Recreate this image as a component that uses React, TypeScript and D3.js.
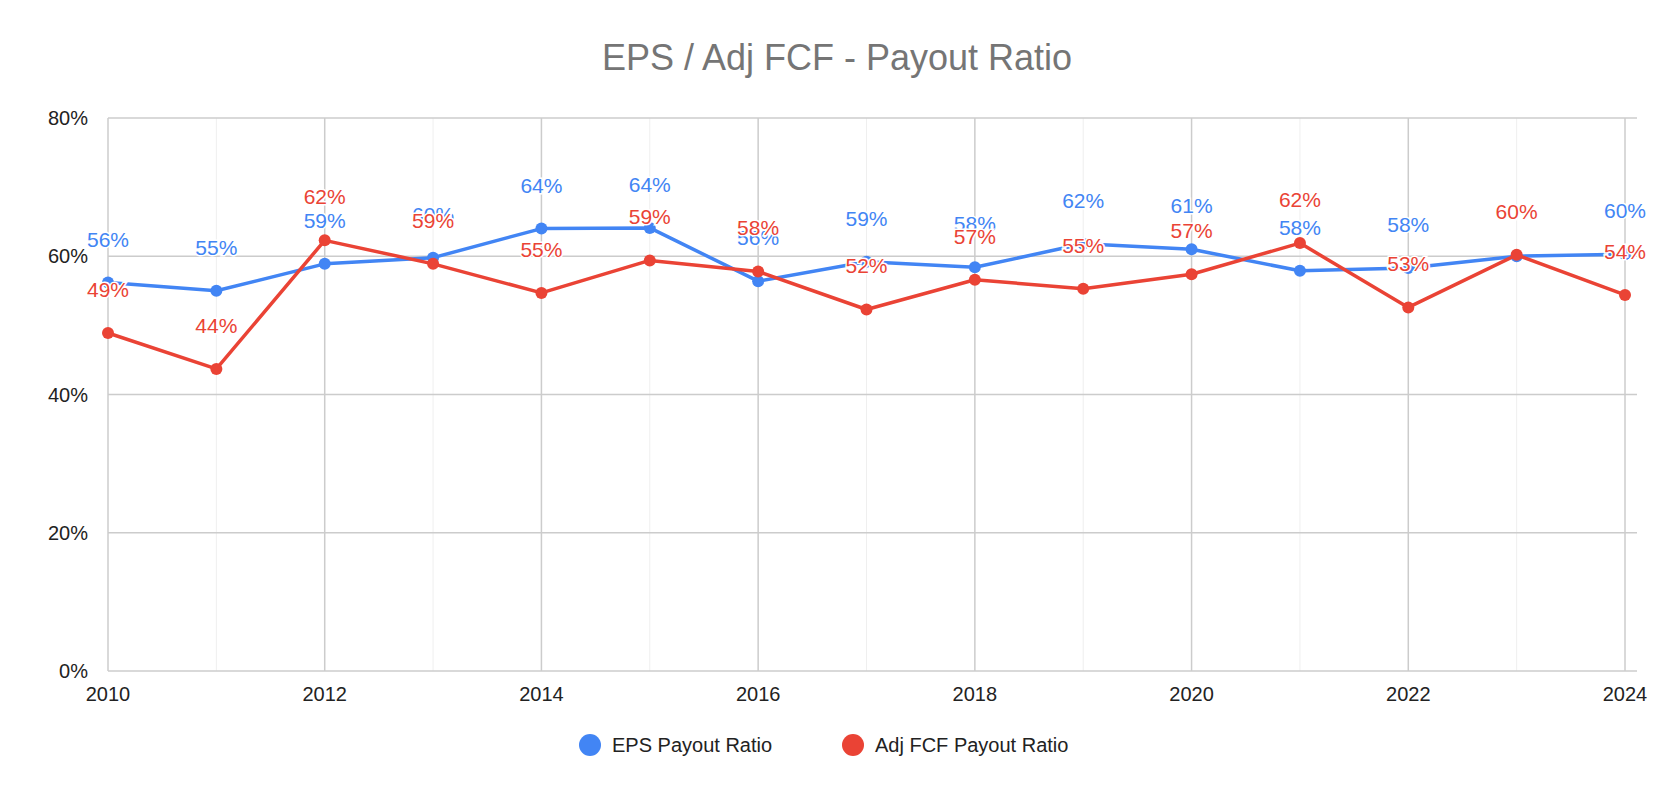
import React from 'react';
import * as d3 from 'd3';

const years = [2010, 2011, 2012, 2013, 2014, 2015, 2016, 2017, 2018, 2019, 2020, 2021, 2022, 2023, 2024];
const epsPayout = [56.2, 55.0, 58.9, 59.8, 64.0, 64.1, 56.4, 59.2, 58.4, 61.8, 61.0, 57.9, 58.3, 60.0, 60.3];
const fcfPayout = [48.9, 43.7, 62.3, 58.9, 54.7, 59.4, 57.8, 52.3, 56.6, 55.3, 57.4, 61.9, 52.6, 60.2, 54.4];
const yTicks = [0, 20, 40, 60, 80];
const xTicks = [2010, 2012, 2014, 2016, 2018, 2020, 2022, 2024];

const series = [
  { name: 'EPS Payout Ratio', values: epsPayout, color: '#4285f4' },
  { name: 'Adj FCF Payout Ratio', values: fcfPayout, color: '#ea4335' },
];

const W = 1674, H = 798;
const margin = { top: 118, right: 49, bottom: 127, left: 108 };

export default function App() {
  const x = d3.scaleLinear().domain([2010, 2024]).range([margin.left, W - margin.right]);
  const y = d3.scaleLinear().domain([0, 80]).range([H - margin.bottom, margin.top]);
  const line = d3.line<number>().x((_, i) => x(years[i])).y(d => y(d));
  const font = '"Liberation Sans", Arial, sans-serif';

  return (
    <svg width={W} height={H} style={{ position: 'absolute', left: 0, top: 0, fontFamily: font }}>
      <rect width={W} height={H} fill="#fff" />
      <text x={W / 2} y={70} textAnchor="middle" fontSize={36} fill="#757575">EPS / Adj FCF - Payout Ratio</text>
      {years.map(yr => (
        <line key={yr} x1={x(yr)} x2={x(yr)} y1={margin.top} y2={H - margin.bottom}
          stroke={xTicks.includes(yr) ? '#cccccc' : '#efefef'} strokeWidth={xTicks.includes(yr) ? 1.5 : 1} />
      ))}
      {yTicks.map(t => (
        <g key={t}>
          <line x1={margin.left} x2={W - margin.right + 12} y1={y(t)} y2={y(t)} stroke="#cccccc" strokeWidth={1.5} />
          <text x={margin.left - 20} y={y(t) + 7} textAnchor="end" fontSize={20} fill="#222">{t}%</text>
        </g>
      ))}
      {xTicks.map(t => (
        <text key={t} x={x(t)} y={H - margin.bottom + 30} textAnchor="middle" fontSize={20} fill="#222">{t}</text>
      ))}
      {series.map(s => (
        <g key={s.name}>
          <path d={line(s.values) || ''} fill="none" stroke={s.color} strokeWidth={3.5} strokeLinejoin="round" />
          {s.values.map((v, i) => (
            <circle key={i} cx={x(years[i])} cy={y(v)} r={6} fill={s.color} />
          ))}
        </g>
      ))}
      {series.map(s => (
        <g key={s.name + 'l'}>
          {s.values.map((v, i) => (
            <text key={i} x={x(years[i])} y={y(v) - 36} textAnchor="middle" fontSize={21} fill={s.color}
              stroke="#fff" strokeWidth={3} paintOrder="stroke">{Math.round(v)}%</text>
          ))}
        </g>
      ))}
      <g transform={`translate(${W / 2}, 745)`}>
        <circle cx={-247} cy={0} r={11} fill={series[0].color} />
        <text x={-225} y={7} fontSize={20} fill="#222">{series[0].name}</text>
        <circle cx={16} cy={0} r={11} fill={series[1].color} />
        <text x={38} y={7} fontSize={20} fill="#222">{series[1].name}</text>
      </g>
    </svg>
  );
}
